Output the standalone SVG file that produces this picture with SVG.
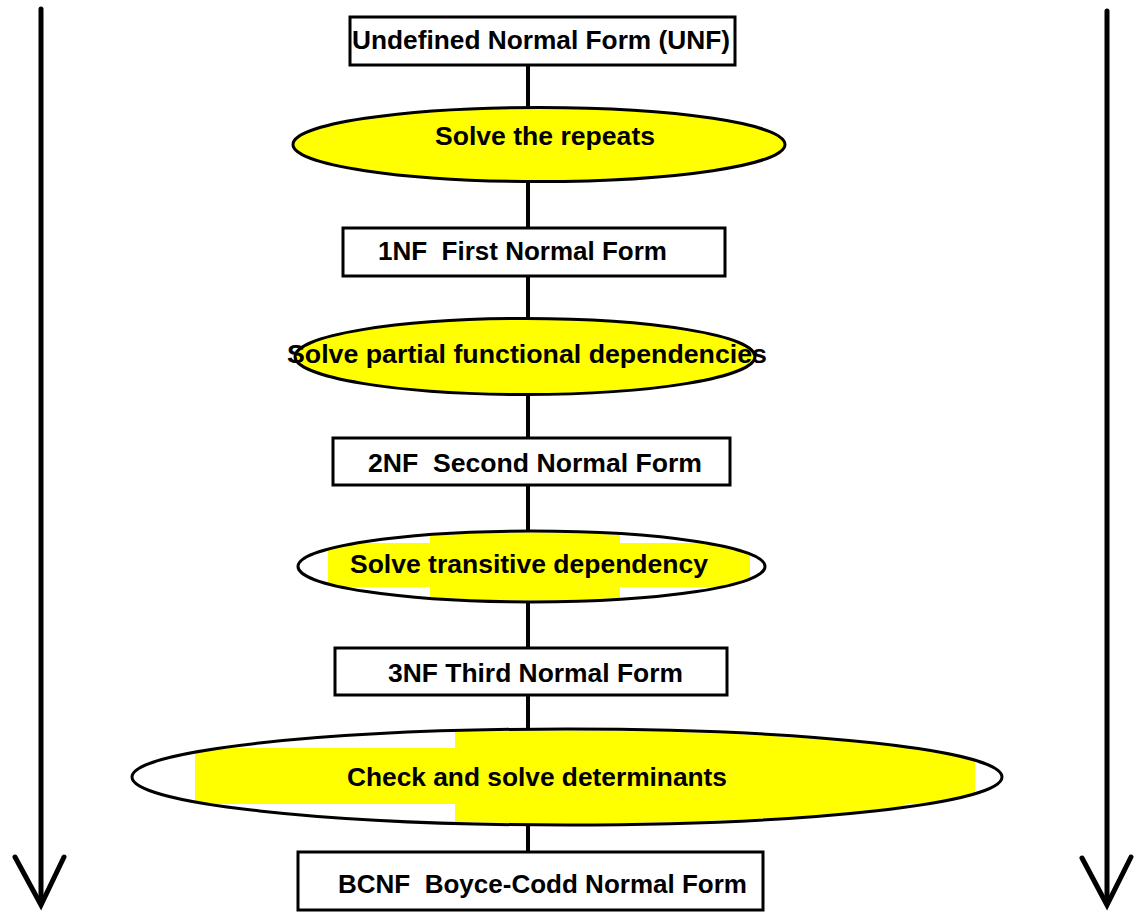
<svg xmlns="http://www.w3.org/2000/svg" width="1142" height="912" viewBox="0 0 1142 912">
<style>
.box{fill:#fff;stroke:#000;stroke-width:3}
.ell{fill:#ffff00;stroke:#000;stroke-width:3}
.lbl{font-family:"Liberation Sans",Arial,sans-serif;font-weight:bold;font-size:26px;fill:#000;white-space:pre}
.conn{stroke:#000;stroke-width:4;fill:none}
.arr{stroke:#000;stroke-width:5;fill:none;stroke-linecap:round;stroke-linejoin:miter}
</style>
<defs>
<clipPath id="c3"><ellipse cx="531.5" cy="566.5" rx="232" ry="34"/></clipPath>
<clipPath id="c4"><ellipse cx="567" cy="777" rx="433" ry="46.5"/></clipPath>
</defs>
<rect width="1142" height="912" fill="#fff"/>
<g id="connectors">
<line class="conn" x1="528" y1="65" x2="528" y2="108"/>
<line class="conn" x1="528" y1="181" x2="528" y2="228"/>
<line class="conn" x1="528" y1="276" x2="528" y2="319"/>
<line class="conn" x1="528" y1="394" x2="528" y2="438"/>
<line class="conn" x1="528" y1="485" x2="528" y2="532"/>
<line class="conn" x1="528" y1="601" x2="528" y2="648"/>
<line class="conn" x1="528" y1="695" x2="528" y2="730"/>
<line class="conn" x1="528" y1="824" x2="528" y2="852"/>
</g>
<g id="arrow-left">
<line class="arr" x1="41" y1="9" x2="41" y2="903"/>
<polyline class="arr" points="15,857 41,905 64,857"/>
</g>
<g id="arrow-right">
<line class="arr" x1="1107" y1="11" x2="1107" y2="903"/>
<polyline class="arr" points="1082,858 1107,905 1131,857"/>
</g>
<g id="unf">
<rect class="box" x="350" y="17" width="385" height="48"/>
<text class="lbl" x="352" y="49" textLength="378" lengthAdjust="spacingAndGlyphs">Undefined Normal Form (UNF)</text>
</g>
<g id="repeats">
<ellipse class="ell" cx="539" cy="144.5" rx="246" ry="37"/>
<text class="lbl" x="435" y="145" textLength="220" lengthAdjust="spacingAndGlyphs">Solve the repeats</text>
</g>
<g id="nf1">
<rect class="box" x="343" y="228" width="382" height="48"/>
<text class="lbl" xml:space="preserve" x="378" y="260" textLength="289" lengthAdjust="spacingAndGlyphs">1NF  First Normal Form</text>
</g>
<g id="partial">
<ellipse class="ell" cx="525" cy="356.5" rx="230" ry="38"/>
<text class="lbl" x="287" y="363" textLength="480" lengthAdjust="spacingAndGlyphs">Solve partial functional dependencies</text>
</g>
<g id="nf2">
<rect class="box" x="333" y="438" width="397" height="47"/>
<text class="lbl" xml:space="preserve" x="368" y="472" textLength="334" lengthAdjust="spacingAndGlyphs">2NF  Second Normal Form</text>
</g>
<g id="transitive">
<ellipse cx="531.5" cy="566.5" rx="233.5" ry="35.5" fill="#fff"/>
<g clip-path="url(#c3)" fill="#ffff00">
<rect x="328" y="543" width="422" height="44"/>
<rect x="430" y="530" width="190" height="75"/>
</g>
<ellipse cx="531.5" cy="566.5" rx="233.5" ry="35.5" fill="none" stroke="#000" stroke-width="3"/>
<text class="lbl" x="350" y="573" textLength="358" lengthAdjust="spacingAndGlyphs">Solve transitive dependency</text>
</g>
<g id="nf3">
<rect class="box" x="335" y="648" width="392" height="47"/>
<text class="lbl" x="388" y="682" textLength="295" lengthAdjust="spacingAndGlyphs">3NF Third Normal Form</text>
</g>
<g id="determinants">
<ellipse cx="567" cy="777" rx="435" ry="48" fill="#fff"/>
<g clip-path="url(#c4)" fill="#ffff00">
<rect x="195" y="748" width="780" height="56"/>
<rect x="455" y="728" width="450" height="98"/>
</g>
<ellipse cx="567" cy="777" rx="435" ry="48" fill="none" stroke="#000" stroke-width="3"/>
<text class="lbl" x="347" y="786" textLength="380" lengthAdjust="spacingAndGlyphs">Check and solve determinants</text>
</g>
<g id="bcnf">
<rect class="box" x="298" y="852" width="465" height="58"/>
<text class="lbl" xml:space="preserve" x="338" y="893" textLength="409" lengthAdjust="spacingAndGlyphs">BCNF  Boyce-Codd Normal Form</text>
</g>
</svg>
